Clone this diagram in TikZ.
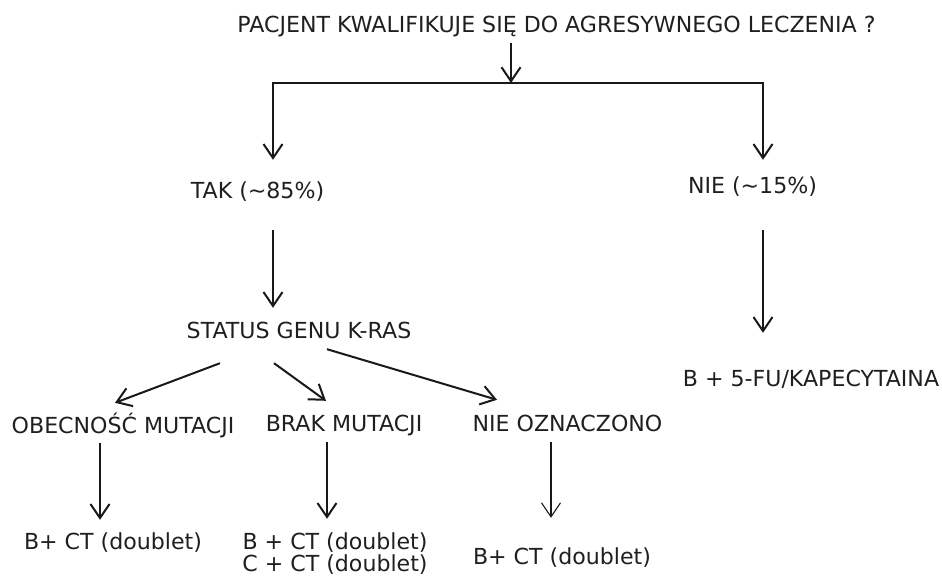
\documentclass[tikz,border=0pt]{standalone}
\usepackage{fontspec}
\setmainfont{DejaVu Sans}
\usetikzlibrary{arrows.meta}
\begin{document}
\begin{tikzpicture}[x=1pt,y=-1pt,
  lbl/.style={inner sep=0pt, text height=16pt, text depth=4pt, font=\fontsize{22.1}{22}\selectfont, text=black!88},
  ln/.style={line width=2pt, draw=black!90},
  arr/.style={ln, -{Straight Barb[length=14pt,width=19pt]}},
  thinarr/.style={arr, line width=1.1pt}]
\fill[white] (0,0) rectangle (942,576);
\useasboundingbox (0,0) rectangle (942,576);
% texts
\node[lbl] (title) at (556.5,26) {PACJENT KWALIFIKUJE SIĘ DO AGRESYWNEGO LECZENIA ?};
\node[lbl] (tak) at (257.5,192) {TAK (\textasciitilde85\%)};
\node[lbl] (nie) at (752.5,187) {NIE (\textasciitilde15\%)};
\node[lbl] (status) at (299,332) {STATUS GENU K-RAS};
\node[lbl] (bfu) at (811,380) {B + 5-FU/KAPECYTAINA};
\node[lbl] (obec) at (123,427) {OBECNOŚĆ MUTACJI};
\node[lbl] (brak) at (344,425) {BRAK MUTACJI};
\node[lbl] (nieozn) at (567.5,425) {NIE OZNACZONO};
\node[lbl] (r1) at (113,543) {B+ CT (doublet)};
\node[lbl] (r2) at (335,543) {B + CT (doublet)};
\node[lbl] (r2b) at (335,565) {C + CT (doublet)};
\node[lbl] (r3) at (562,558) {B+ CT (doublet)};
% helper coordinates
\coordinate (split) at (511,83);
\coordinate (lc) at (273,83);
\coordinate (rc) at (763,83);
\coordinate (x1) at (100,0);
\coordinate (x2) at (327,0);
\coordinate (x3) at (551,0);
% connectors
\draw[arr, shorten <=7pt] (title.south -| split) -- (split);
\draw[arr, shorten >=22pt] (split) -| (tak.north -| lc);
\draw[arr, shorten >=17pt] (split) -| (nie.north -| rc);
\draw[arr, shorten <=28pt, shorten >=14pt] (tak.south -| lc) -- (status.north -| lc);
\draw[arr, shorten <=33pt, shorten >=37pt] (nie.south -| rc) -- (bfu.north -| rc);
\draw[arr] ([xshift=-79pt,yshift=-21pt]status.south) -- ([xshift=-8pt,yshift=14pt]obec.north);
\draw[arr] ([xshift=-25pt,yshift=-21pt]status.south) -- ([xshift=-18pt,yshift=14pt]brak.north);
\draw[arr] ([xshift=28pt,yshift=-7pt]status.south) -- ([xshift=-70.5pt,yshift=15pt]nieozn.north);
\draw[arr, shorten <=6pt, shorten >=13pt] (obec.south -| x1) -- (r1.north -| x1);
\draw[arr, shorten <=7pt, shorten >=14pt] (brak.south -| x2) -- (r2.north -| x2);
\draw[thinarr, shorten <=7pt, shorten >=30pt] (nieozn.south -| x3) -- (r3.north -| x3);
\end{tikzpicture}
\end{document}
